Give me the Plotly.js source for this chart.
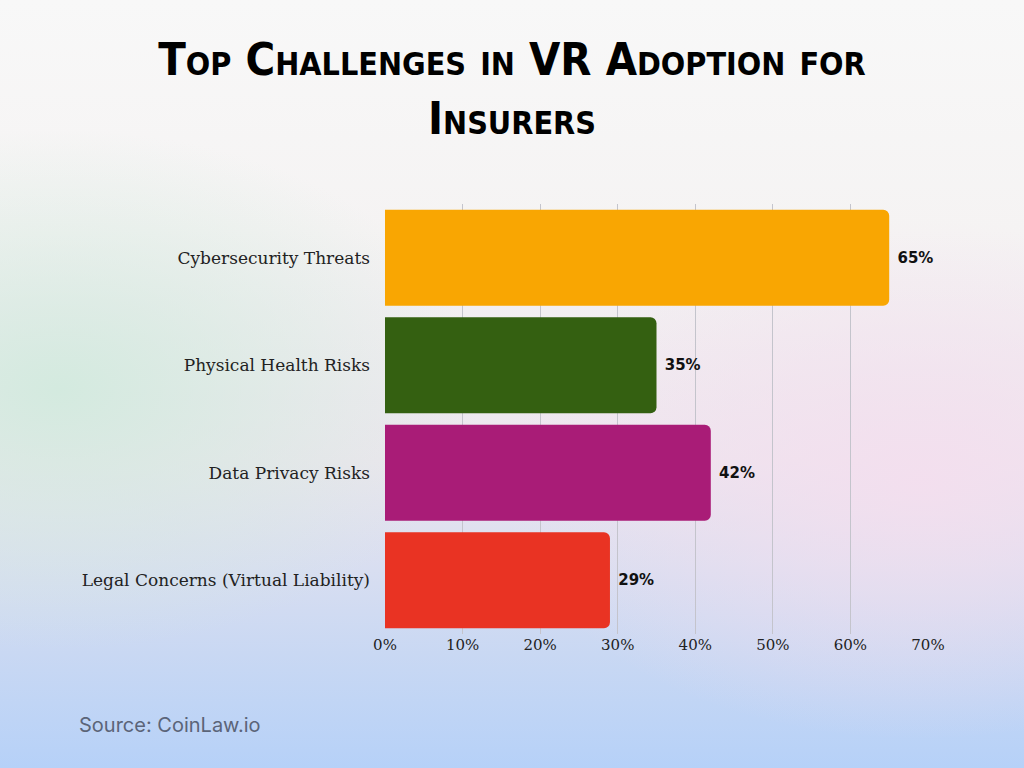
<!DOCTYPE html>
<html>
<head>
<meta charset="utf-8">
<script src="https://cdn.plot.ly/plotly-3.0.1.min.js"></script>
<style>
html,body{margin:0;padding:0;width:1024px;height:768px;overflow:hidden;}
body{
  background:
    radial-gradient(ellipse 420px 260px at 60px 390px, rgba(210,234,222,0.95), rgba(210,234,222,0) 100%),
    radial-gradient(ellipse 420px 260px at 920px 480px, rgba(244,222,238,0.9), rgba(244,222,238,0) 100%),
    linear-gradient(to bottom, #f8f8f8 0%, #f5f3f3 30%, #ece6ee 60%, #c9d8f3 85%, #b6d1f8 100%);
}
#chart{width:1024px;height:768px;}
.gtitle, .textpoint text{font-stretch:condensed !important;}
</style>
</head>
<body>
<div id="chart"></div>
<script>
const categories = ["Cybersecurity Threats", "Physical Health Risks", "Data Privacy Risks", "Legal Concerns (Virtual Liability)"];
const values = [65, 35, 42, 29];
const valueLabels = ["65%", "35%", "42%", "29%"];
const barColors = ["#F9A602", "#346011", "#A91C77", "#E93323"];
const tickValues = [0, 10, 20, 30, 40, 50, 60, 70];
const tickLabels = ["0%", "10%", "20%", "30%", "40%", "50%", "60%", "70%"];

const trace = {
  type: "bar",
  orientation: "h",
  y: categories,
  x: values,
  text: valueLabels,
  texttemplate: " %{text}",
  textposition: "outside",
  cliponaxis: false,
  textfont: {family: "DejaVu Sans", size: 15, color: "#111", weight: 700},
  marker: {color: barColors, cornerradius: 6},
  hoverinfo: "skip"
};

const layout = {
  width: 1024,
  height: 768,
  paper_bgcolor: "rgba(0,0,0,0)",
  plot_bgcolor: "rgba(0,0,0,0)",
  margin: {l: 385, r: 96, t: 204, b: 134},
  bargap: 0.107,
  showlegend: false,
  title: {
    text: "Top Challenges in VR Adoption for<br>Insurers",
    x: 0.5, xanchor: "center",
    y: 0.902, yanchor: "middle",
    font: {family: "DejaVu Sans", size: 45, color: "#000", weight: 700, variant: "small-caps"}
  },
  xaxis: {
    range: [0, 70],
    tickvals: tickValues,
    ticktext: tickLabels,
    showgrid: true,
    gridcolor: "#c4c4cc",
    gridwidth: 1,
    zeroline: false,
    showline: false,
    ticks: "",
    tickfont: {family: "DejaVu Serif, serif", size: 15, color: "#222"},
    fixedrange: true
  },
  yaxis: {
    autorange: "reversed",
    showgrid: false,
    zeroline: false,
    showline: false,
    ticks: "",
    ticklabelstandoff: 14,
    tickfont: {family: "DejaVu Serif, serif", size: 17, color: "#222"},
    fixedrange: true
  },
  annotations: [{
    text: "Source: CoinLaw.io",
    xref: "paper", yref: "paper",
    x: -0.567, y: -0.2116,
    xanchor: "left", yanchor: "middle",
    showarrow: false,
    font: {family: "Inter, Open Sans, sans-serif", size: 20, color: "#5b6478"}
  }]
};

Plotly.newPlot("chart", [trace], layout, {displayModeBar: false, staticPlot: true});
</script>
</body>
</html>
